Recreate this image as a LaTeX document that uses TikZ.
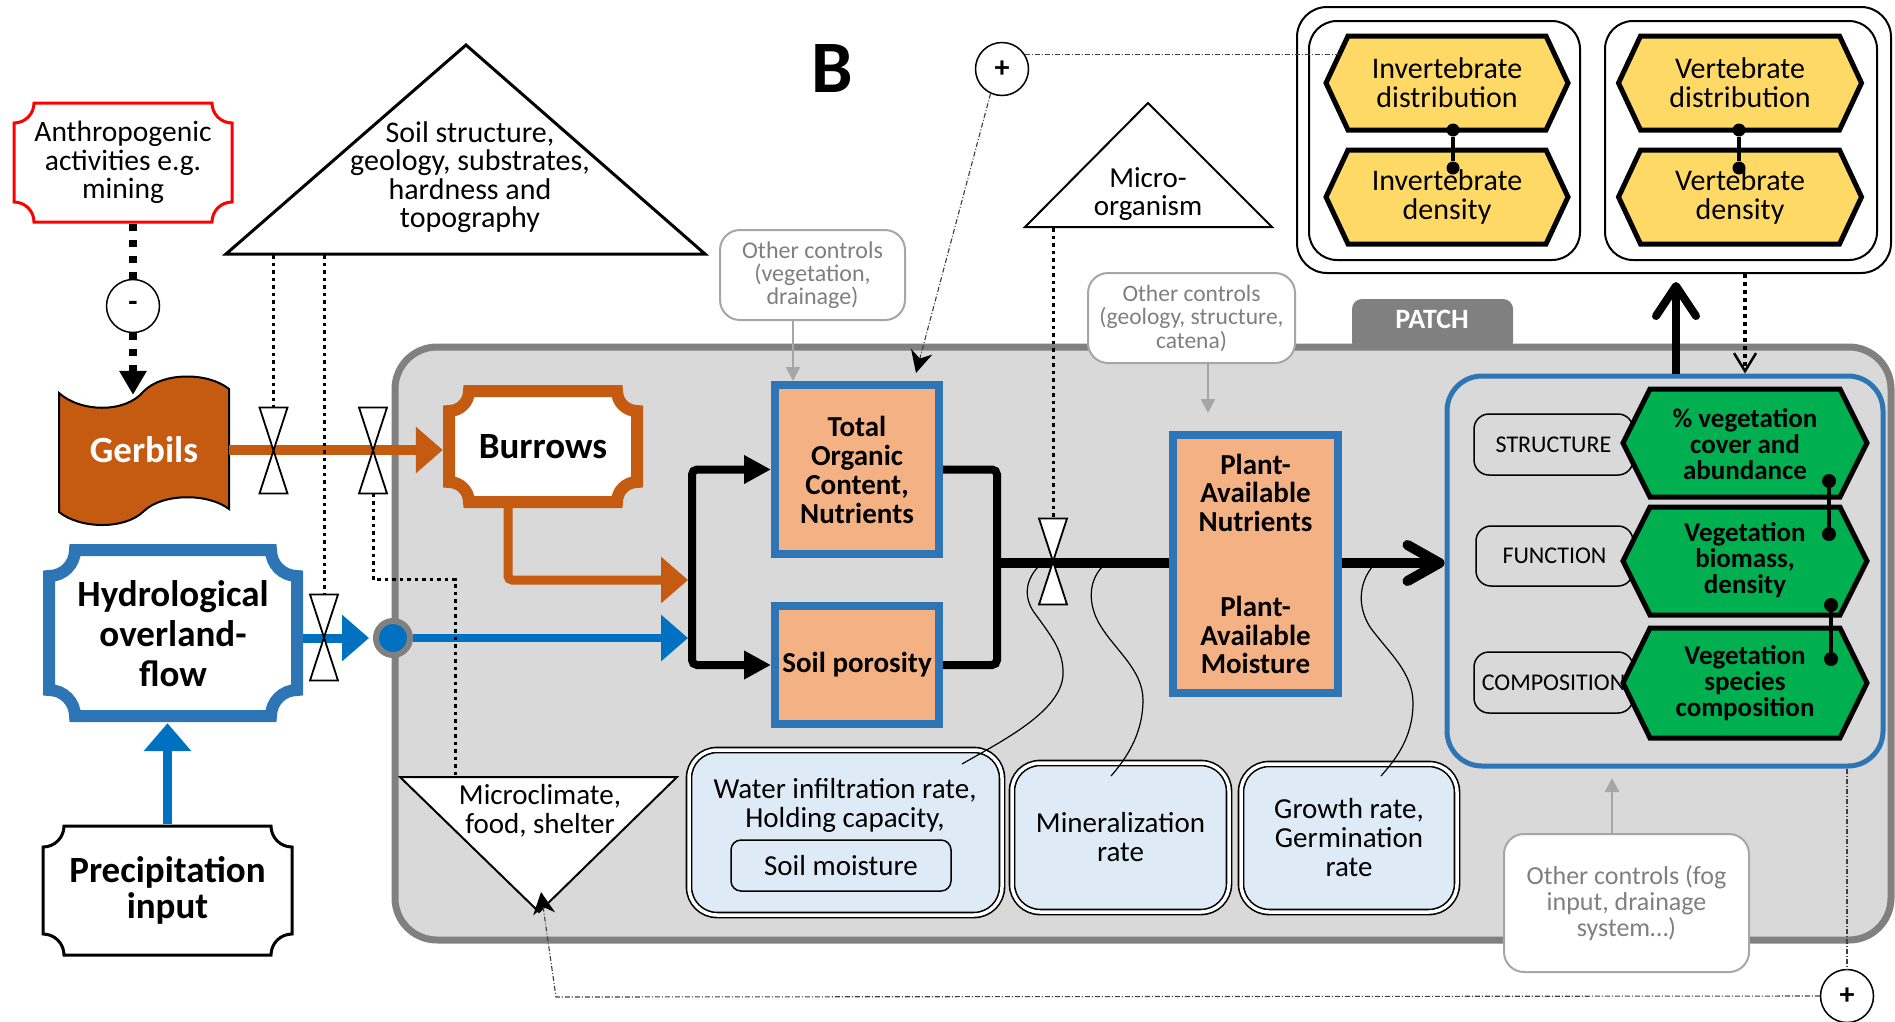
\documentclass[tikz,border=0pt]{standalone}
\usepackage{fontspec}
\setmainfont{Carlito}
\usetikzlibrary{arrows.meta,calc}
\definecolor{orng}{HTML}{C55A11}
\definecolor{barrow}{HTML}{0070C0}
\definecolor{bbord}{HTML}{2E75B6}
\definecolor{salmon}{HTML}{F4B183}
\definecolor{pfill}{HTML}{D9D9D9}
\definecolor{pbord}{HTML}{808080}
\definecolor{lblue}{HTML}{DEEBF7}
\definecolor{yel}{HTML}{FFD966}
\definecolor{grn}{HTML}{00B050}
\definecolor{gtext}{HTML}{7F7F7F}
\definecolor{gbord}{HTML}{A6A6A6}
\definecolor{ddot}{HTML}{404040}
\newcommand\myfs[2]{\fontsize{#1}{#2}\selectfont}
\newcommand\notchshape[6]{%
 \pgfmathsetmacro\ntXa{#1-#3/2}\pgfmathsetmacro\ntXb{#1+#3/2}%
 \pgfmathsetmacro\ntYa{#2-#4/2}\pgfmathsetmacro\ntYb{#2+#4/2}%
 \pgfmathsetmacro\ntR{#5}\pgfmathsetmacro\ntK{0.552*#5}%
 \draw[#6] ({\ntXa+\ntR},\ntYa) -- ({\ntXb-\ntR},\ntYa)
  .. controls ({\ntXb-\ntR},{\ntYa+\ntK}) and ({\ntXb-\ntK},{\ntYa+\ntR}) .. (\ntXb,{\ntYa+\ntR})
  -- (\ntXb,{\ntYb-\ntR})
  .. controls ({\ntXb-\ntK},{\ntYb-\ntR}) and ({\ntXb-\ntR},{\ntYb-\ntK}) .. ({\ntXb-\ntR},\ntYb)
  -- ({\ntXa+\ntR},\ntYb)
  .. controls ({\ntXa+\ntR},{\ntYb-\ntK}) and ({\ntXa+\ntK},{\ntYb-\ntR}) .. (\ntXa,{\ntYb-\ntR})
  -- (\ntXa,{\ntYa+\ntR})
  .. controls ({\ntXa+\ntK},{\ntYa+\ntR}) and ({\ntXa+\ntR},{\ntYa+\ntK}) .. ({\ntXa+\ntR},\ntYa) -- cycle;}
\newcommand\hexshape[6]{\draw[#6] ({#1-#3/2},#2) -- ({#1-#3/2+#5},{#2-#4/2}) -- ({#1+#3/2-#5},{#2-#4/2}) -- ({#1+#3/2},#2) -- ({#1+#3/2-#5},{#2+#4/2}) -- ({#1-#3/2+#5},{#2+#4/2}) -- cycle;}
\newcommand\valveshape[3]{\draw[valvest] ({#2-14},{#3-43}) -- ({#2+14},{#3-43}) -- ({#2-14},{#3+43}) -- ({#2+14},{#3+43}) -- cycle;
 \coordinate (#1) at (#2,#3); \coordinate (#1-t) at (#2,{#3-43}); \coordinate (#1-b) at (#2,{#3+43});}
\begin{document}
\begin{tikzpicture}[x=1pt,y=-1pt,
  lbl/.style={align=center, inner sep=0pt},
  valvest/.style={draw=black, line width=1.8pt, fill=white},
  thindot/.style={line width=3pt, dash pattern=on 3.5pt off 4pt},
  meddot/.style={line width=4pt, dash pattern=on 4pt off 4pt},
  thickdot/.style={line width=8pt, dash pattern=on 7pt off 9pt},
  dashdot/.style={line width=1.1pt, draw=ddot, dash pattern=on 5pt off 2pt on 1pt off 2pt},
  bigtri/.style={-{Triangle[length=27pt,width=45pt]}},
  graybox/.style={draw=gbord, line width=2pt, fill=white, rounded corners=20pt, inner sep=0pt, align=center, text=gtext},
  grayarr/.style={draw=gbord, line width=2.5pt, -{Triangle[length=14pt,width=14pt,color=gbord]}},
  pbox/.style={draw=bbord, line width=8pt, fill=salmon, inner sep=0pt, align=center},
  dblbox/.style={draw=black, line width=1.6pt, double=white, double distance=3.5pt, fill=lblue, rounded corners=28pt, inner sep=0pt},
  tagbox/.style={draw=black, line width=1.5pt, rounded corners=15pt, inner sep=0pt, font=\myfs{24}{24}},
  hexY/.style={draw=black, line width=5pt, fill=yel},
  hexG/.style={draw=black, line width=5pt, fill=grn},
  dot/.style={circle, fill=black, inner sep=0pt, minimum size=13pt},
  pm/.style={circle, draw=black, line width=1.5pt, fill=white, inner sep=0pt, minimum size=53pt, font=\bfseries\myfs{30}{30}},
  stl/.style={-{Stealth[length=22pt,width=22pt,inset=7pt,color=black]}}
]
\useasboundingbox (0,0) rectangle (1895,1021);
\fill[white] (0,0) rectangle (1895,1021);

% ---- PATCH container
\fill[pbord, rounded corners=10pt] (1352,352) -- (1352,299) -- (1513,299) -- (1513,352) -- cycle;
\node[font=\bfseries\myfs{28}{28}, text=white] (patchlbl) at (1432,319) {PATCH};
\node[draw=pbord, line width=7pt, fill=pfill, rounded corners=42pt, minimum width=1496pt, minimum height=593pt, inner sep=0pt] (patch) at (1143,643.5) {};

% ---- organism boxes
\node[draw, line width=2pt, fill=white, rounded corners=30pt, minimum width=594pt, minimum height=266pt, inner sep=0pt] (org) at (1594,140) {};
\node[draw, line width=2pt, rounded corners=28pt, minimum width=271pt, minimum height=239pt, inner sep=0pt] (orgI) at (1444.5,140.5) {};
\node[draw, line width=2pt, rounded corners=28pt, minimum width=272pt, minimum height=239pt, inner sep=0pt] (orgV) at (1741,140.5) {};
\hexshape{1447}{83}{242}{94}{22}{hexY}
\node[lbl, font=\myfs{30}{29}] (idist) at (1447,83) {Invertebrate\\distribution};
\hexshape{1447}{197}{242}{94}{22}{hexY}
\node[lbl, font=\myfs{30}{29}] (idens) at (1447,197) {Invertebrate\\density};
\hexshape{1740}{83}{243}{94}{22}{hexY}
\node[lbl, font=\myfs{30}{29}] (vdist) at (1740,83) {Vertebrate\\distribution};
\hexshape{1740}{197}{243}{94}{22}{hexY}
\node[lbl, font=\myfs{30}{29}] (vdens) at (1740,197) {Vertebrate\\density};
\node[dot] (di1) at (1453,130) {};
\node[dot] (di2) at (1453,168) {};
\draw[line width=3.5pt] (di1) -- (di2);
\node[dot] (dv1) at (1739,130) {};
\node[dot] (dv2) at (1739,168) {};
\draw[line width=3.5pt] (dv1) -- (dv2);

% ---- B label
\node[font=\bfseries\myfs{74}{74}] (B) at (832,69) {B};

% ---- triangles
\draw[line width=3pt, fill=white] (226,254) -- (466,45) -- (705,254) -- cycle;
\node[lbl, font=\myfs{30}{28.5}] (soil) at (470,177) {Soil structure,\\geology, substrates,\\hardness and\\topography};
\draw[line width=2pt, fill=white] (1025,227) -- (1148,103) -- (1272,227) -- cycle;
\node[lbl, font=\myfs{29}{28}] (micro) at (1148,194) {Micro-\\organism};

% ---- left column
\notchshape{123}{162.5}{218}{119}{20}{draw=red, line width=3pt, fill=white}
\node[lbl, font=\myfs{29.5}{28.5}, minimum width=221pt, minimum height=122pt] (anthro) at (123,162.5) {Anthropogenic\\activities e.g.\\mining};
\node[pm] (minus) at (133,306) {-};
\draw[line width=2pt, fill=orng] (59,393) .. controls (80,412) and (125,414) .. (144,391) .. controls (163,372) and (208,372) .. (229,389) -- (229,509) .. controls (208,493) and (163,493) .. (144,511) .. controls (125,530) and (80,529) .. (59,512) -- cycle;
\node[lbl, text=white, font=\bfseries\myfs{37}{36}, minimum width=170pt, minimum height=110pt] (gerbils) at (144,450) {Gerbils};
\notchshape{543}{446.5}{188}{111}{20}{draw=orng, line width=12pt, fill=white}
\node[lbl, font=\bfseries\myfs{37}{36}, minimum width=200pt, minimum height=123pt] (burrows) at (543,446.5) {Burrows};
\notchshape{173}{633}{248}{166}{26}{draw=bbord, line width=12pt, fill=white}
\node[lbl, font=\bfseries\myfs{37}{40}, minimum width=260pt, minimum height=178pt] (hydro) at (173,634) {Hydrological\\overland-\\flow};
\notchshape{167.5}{890.5}{249}{129}{21}{draw=black, line width=3pt, fill=white}
\node[lbl, font=\bfseries\myfs{37}{36}, minimum width=252pt, minimum height=132pt] (precip) at (167.5,890.5) {Precipitation\\input};

% ---- other controls
\node[graybox, minimum width=185pt, minimum height=90pt, font=\myfs{24}{23}] (oc1) at (812.5,275) {Other controls\\(vegetation,\\drainage)};
\node[graybox, minimum width=207pt, minimum height=90pt, font=\myfs{23.5}{23.5}] (oc2) at (1191.5,318) {Other controls\\(geology, structure,\\catena)};
\node[graybox, minimum width=245pt, minimum height=138pt, font=\myfs{26}{26}] (oc3) at (1626.5,903) {Other controls (fog\\input, drainage\\system…)};

% ---- process boxes
\node[pbox, minimum width=164pt, minimum height=169pt, font=\bfseries\myfs{29}{29}] (toc) at (857,469.5) {Total\\Organic\\Content,\\Nutrients};
\node[pbox, minimum width=164pt, minimum height=118pt, font=\bfseries\myfs{29}{29}] (soilpor) at (857,665) {Soil porosity};
\node[pbox, minimum width=165pt, minimum height=258pt, font=\bfseries\myfs{29}{28.5}] (pan) at (1255.5,564) {Plant-\\Available\\Nutrients\\[57pt]Plant-\\Available\\Moisture};

% ---- bottom boxes
\node[dblbox, minimum width=313pt, minimum height=165pt] (water) at (845.5,832.5) {};
\node[lbl, font=\myfs{29}{29}] (watertxt) at (845,805) {Water infiltration rate,\\Holding capacity,};
\node[draw, line width=1.5pt, rounded corners=10pt, fill=lblue, minimum width=220pt, minimum height=51pt, inner sep=0pt, font=\myfs{29}{29}] (soilm) at (841,865.5) {Soil moisture};
\node[dblbox, minimum width=217pt, minimum height=149pt, font=\myfs{29}{29}, align=center] (mineral) at (1120.5,837.5) {Mineralization\\rate};
\node[dblbox, minimum width=216pt, minimum height=148pt, font=\myfs{29}{29}, align=center] (growth) at (1349,838) {Growth rate,\\Germination\\rate};
\draw[line width=2pt, fill=white] (400,777) -- (677,777) -- (539,912) -- cycle;
\node[lbl, font=\myfs{29}{29}] (clim) at (540,811) {Microclimate,\\food, shelter};

% ---- vegetation box
\node[draw=bbord, line width=5pt, rounded corners=35pt, minimum width=436pt, minimum height=390pt, inner sep=0pt] (veg) at (1665,571) {};
\node[tagbox, minimum width=159pt, minimum height=61pt] (struct) at (1553.5,444.5) {STRUCTURE};
\node[tagbox, minimum width=157pt, minimum height=60pt] (func) at (1554.5,556) {FUNCTION};
\node[tagbox, minimum width=159pt, minimum height=61pt] (comp) at (1553.5,682.5) {COMPOSITION};
\hexshape{1745}{443}{244}{108}{27}{hexG}
\node[lbl, font=\bfseries\myfs{27}{26}] (vcover) at (1745,444) {\% vegetation\\cover and\\abundance};
\hexshape{1745}{561}{244}{108}{27}{hexG}
\node[lbl, font=\bfseries\myfs{27}{26}] (vbio) at (1745,560) {Vegetation\\biomass,\\density};
\hexshape{1745}{683}{244}{110}{27}{hexG}
\node[lbl, font=\bfseries\myfs{27}{26}] (vspec) at (1745,683) {Vegetation\\species\\composition};
\node[dot, minimum size=14pt] (dg1) at (1829,481) {};
\node[dot, minimum size=14pt] (dg2) at (1829,534) {};
\draw[line width=3.5pt] (dg1) -- (dg2);
\node[dot, minimum size=14pt] (dg3) at (1831,605) {};
\node[dot, minimum size=14pt] (dg4) at (1831,659) {};
\draw[line width=3.5pt] (dg3) -- (dg4);

% ---- circles
\node[pm] (plus1) at (1002,69) {+};
\node[pm] (plus2) at (1847,996) {+};

% ---- flows
\draw[orng, line width=10pt, bigtri] (gerbils.east) -- (gerbils.east -| burrows.west);
\coordinate (oEnd) at (688,580);
\draw[orng, line width=9pt, rounded corners=4pt, bigtri] ($(burrows.south)+(-35,0)$) |- (oEnd);
\node[circle, fill=barrow, draw=pbord, line width=6pt, minimum size=34pt, inner sep=0pt] (bdot) at (393,638) {};
\draw[barrow, line width=9pt, bigtri, shorten >=4pt] (hydro.east |- bdot) -- (bdot.west);
\coordinate (bEnd) at (688,638);
\draw[barrow, line width=8pt, bigtri] (bdot.east) -- (bEnd);
\draw[barrow, line width=9pt, -{Triangle[length=28pt,width=46pt]}] (precip.north) -- (precip.north |- hydro.south);
\draw[line width=8pt, rounded corners=5pt, {Triangle[length=27pt,width=27pt]}-{Triangle[length=27pt,width=27pt]}] (toc.west) -- ++(-79,0) |- (soilpor.west);
\draw[line width=8pt, rounded corners=5pt] (toc.east) -- ++(54,0) |- (soilpor.east);
\coordinate (brR) at (997,563);
\draw[line width=10pt] (brR) -- (pan.west |- brR);
\draw[line width=10pt, -{Straight Barb[length=32pt,width=36pt,round]}] (pan.east |- brR) -- (veg.west |- brR);
\coordinate (upE) at (1676,282);
\draw[line width=8pt, -{Straight Barb[length=30pt,width=40pt,round]}] (veg.north -| upE) -- (upE);
\coordinate (dnX) at (1745,0);
\draw[meddot, -{Straight Barb[length=18pt,width=22pt,line width=2.5pt]}] (org.south -| dnX) -- (veg.north -| dnX);

% ---- thin curves
\draw[line width=1.2pt] (1038,567) .. controls (1024,582) and (1024,600) .. (1036,615) .. controls (1052,637) and (1064,652) .. (1063,675) .. controls (1061,712) and (1000,742) .. (962,764);
\draw[line width=1.2pt] (1102,567) .. controls (1088,582) and (1088,605) .. (1100,625) .. controls (1115,650) and (1143,670) .. (1143,700) .. controls (1143,735) and (1125,760) .. (1111,776);
\draw[line width=1.2pt] (1372,567) .. controls (1358,585) and (1358,608) .. (1370,627) .. controls (1388,652) and (1413,672) .. (1413,703) .. controls (1413,738) and (1395,760) .. (1381,776);

% ---- valves
\valveshape{v1}{273.5}{450.5}
\valveshape{v2}{373}{450.5}
\valveshape{v3}{324}{637.5}
\valveshape{v4}{1053}{561.5}

% ---- dotted controls
\draw[thickdot] (anthro.south -| minus) -- (minus.north);
\draw[thickdot, -{Triangle[length=24pt,width=26pt]}] (minus.south) -- (minus.south |- gerbils.north);
\coordinate (sb1) at (273.5,255);
\coordinate (sb2) at (324,255);
\coordinate (climtop) at (455,777);
\draw[thindot] (sb1) -- (v1-t);
\draw[thindot] (sb2) -- (v3-t);
\draw[thindot] (v2-b) -- ++(0,86) -| (climtop);
\coordinate (mb) at (1053,228);
\draw[thindot] (mb) -- (v4-t);

% ---- gray arrows
\coordinate (g1) at (793,0);
\draw[grayarr] (oc1.south -| g1) -- (toc.north -| g1);
\coordinate (g2e) at (1208,413);
\draw[grayarr] (oc2.south -| g2e) -- (g2e);
\coordinate (g3e) at (1612,778);
\draw[grayarr] (oc3.north -| g3e) -- (g3e);

% ---- dash-dot feedbacks
\coordinate (hexA) at (1339,55);
\draw[dashdot] (plus1.33) -- (plus1.33 -| hexA);
\coordinate (tocIn) at (916,373);
\draw[dashdot, stl] (plus1.-115) -- (tocIn);
\coordinate (blc) at (556,997);
\coordinate (climtip) at (541,892);
\draw[dashdot, stl] (plus2.west) -- (blc) -- (climtip);
\draw[dashdot] (veg.south -| plus2) -- (plus2.north);
\end{tikzpicture}
\end{document}
